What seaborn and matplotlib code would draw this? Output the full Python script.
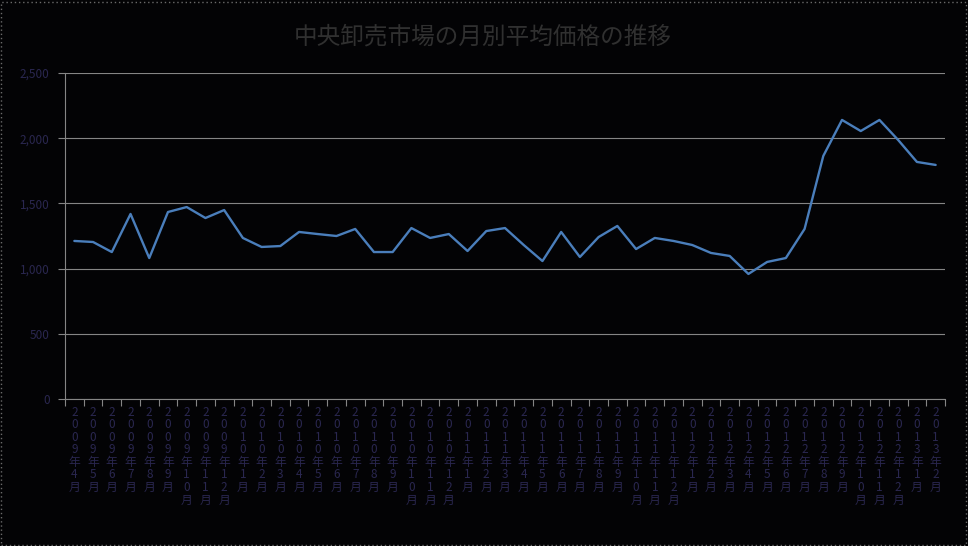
import matplotlib
matplotlib.use("Agg")
import matplotlib.pyplot as plt
import seaborn as sns
import numpy as np
import pandas as pd
from matplotlib.patches import Rectangle
from matplotlib.ticker import FuncFormatter, FixedLocator

title = "中央卸売市場の月別平均価格の推移"

years = ["2009"] * 9 + ["2010"] * 12 + ["2011"] * 12 + ["2012"] * 12 + ["2013"] * 2
months = ["4", "5", "6", "7", "8", "9", "10", "11", "12",
          "1", "2", "3", "4", "5", "6", "7", "8", "9", "10", "11", "12",
          "1", "2", "3", "4", "5", "6", "7", "8", "9", "10", "11", "12",
          "1", "2", "3", "4", "5", "6", "7", "8", "9", "10", "11", "12",
          "1", "2"]

values = [1212, 1204, 1127, 1419, 1081, 1434, 1472, 1388, 1449, 1235,
          1166, 1173, 1281, 1265, 1250, 1304, 1127, 1127, 1311, 1235,
          1265, 1135, 1288, 1311, 1181, 1058, 1281, 1089, 1242, 1327,
          1150, 1235, 1212, 1181, 1120, 1097, 959, 1051, 1081, 1304,
          1864, 2140, 2055, 2140, 1986, 1818, 1795]

y_ticks = [0, 500, 1000, 1500, 2000, 2500]

labels = ["\n".join(list(y) + ["年"] + list(m) + ["月"]) for y, m in zip(years, months)]

df = pd.DataFrame({"label": labels, "value": values})

sns.set_style("dark")
plt.rcParams["font.family"] = ["Noto Sans CJK JP", "DejaVu Sans"]

BG = "#030305"
GRID = "#858585"
TXT = "#2a2750"

fig = plt.figure(figsize=(9.68, 5.46), dpi=100, facecolor=BG)
ax = fig.add_axes([65 / 968, 1 - 399 / 546, 880 / 968, 326 / 546])
ax.set_facecolor(BG)

sns.lineplot(data=df, x="label", y="value", sort=False, ax=ax,
             color="#4a7ebb", linewidth=1.7)

n = len(values)
ax.set_xlim(-0.5, n - 0.5)
ax.set_ylim(0, 2500)
ax.set_yticks(y_ticks)
ax.yaxis.set_major_formatter(FuncFormatter(lambda v, p: f"{int(v):,}"))
ax.grid(axis="y", color=GRID, linewidth=0.8)
ax.grid(axis="x", visible=False)
ax.set_xlabel("")
ax.set_ylabel("")

for s in ["top", "right"]:
    ax.spines[s].set_visible(False)
for s in ["left", "bottom"]:
    ax.spines[s].set_visible(True)
    ax.spines[s].set_color(GRID)
    ax.spines[s].set_linewidth(0.8)

ax.tick_params(axis="y", which="major", length=5, color=GRID, width=0.8,
               labelsize=8.5, labelcolor=TXT, pad=6, left=True)
ax.tick_params(axis="x", which="major", length=0, labelsize=8.5,
               labelcolor=TXT, pad=5)
ax.xaxis.set_minor_locator(FixedLocator(np.arange(-0.5, n, 1.0)))
ax.tick_params(axis="x", which="minor", length=5, color=GRID, width=0.8,
               bottom=True)
for t in ax.get_xticklabels():
    t.set_linespacing(0.95)
    t.set_verticalalignment("top")

fig.text(483 / 968, 1 - 37 / 546, title, ha="center", va="center",
         fontsize=17, color="#303030")

fig.patches.append(Rectangle((0.001, 0.002), 0.997, 0.995,
                             transform=fig.transFigure, fill=False,
                             edgecolor="#6a6a6a", linewidth=1,
                             linestyle=(0, (1, 2))))

fig.savefig("out.png", dpi=100, facecolor=BG)
